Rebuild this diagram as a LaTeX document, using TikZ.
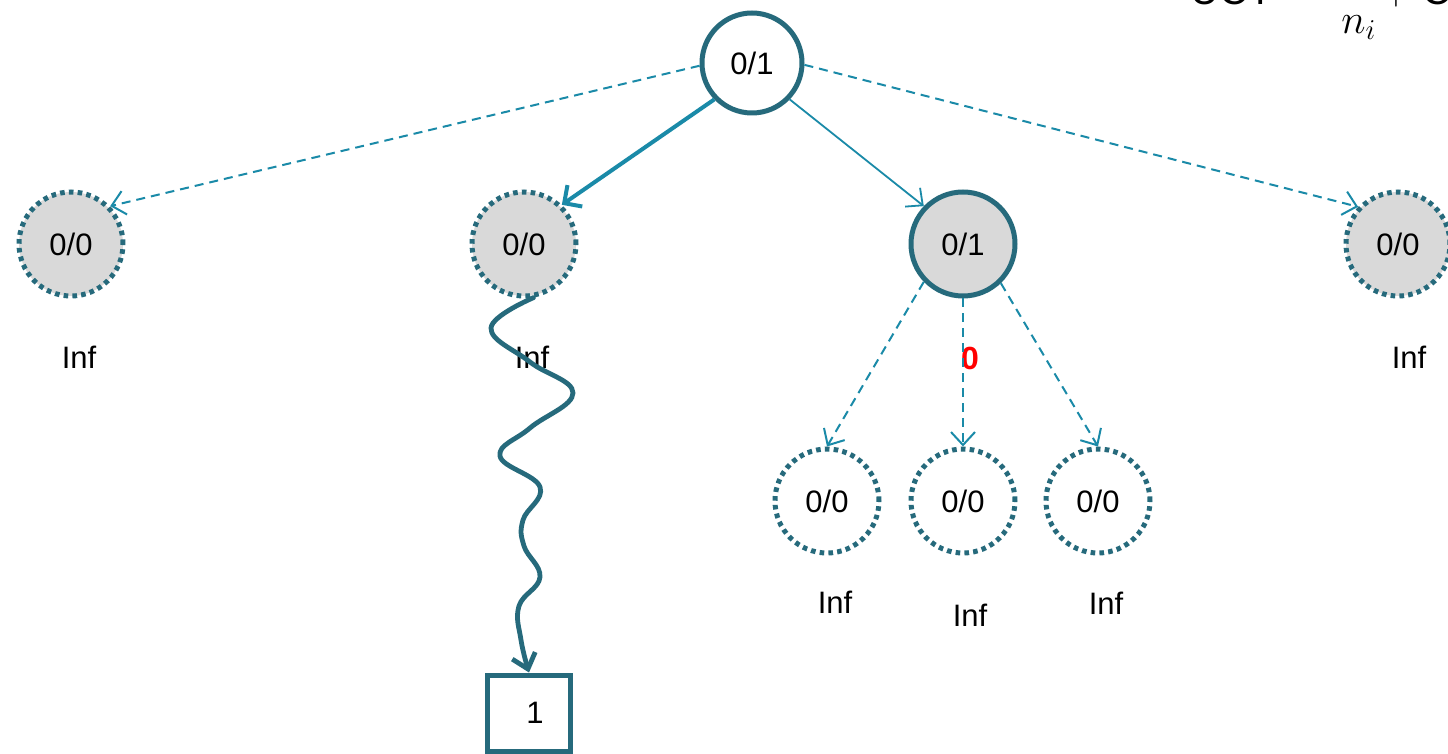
\documentclass[tikz,border=0pt]{standalone}
\usepackage{fontspec}
\setmainfont{Liberation Sans}
\usetikzlibrary{arrows.meta}
\definecolor{ring}{RGB}{38,106,124}
\definecolor{edge}{RGB}{26,138,168}
\definecolor{nodegray}{RGB}{217,217,217}
\begin{document}
\begin{tikzpicture}[x=0.5pt,y=-0.5pt,
  lbl/.style={font=\fontsize{15.5}{18}\selectfont},
  solidnode/.style={circle,draw=ring,line width=2.5pt,minimum size=#1,inner sep=0pt,lbl},
  dotnode/.style={circle,draw=ring,line width=2.5pt,dash pattern=on 2.3pt off 2.1pt,minimum size=52pt,inner sep=0pt,lbl},
  dashedge/.style={draw=edge,line width=1pt,dash pattern=on 4.5pt off 3pt,-{Straight Barb[length=6.5pt,width=12pt,line width=1pt]}},
  thinedge/.style={draw=edge,line width=0.9pt,-{Straight Barb[length=6.5pt,width=12pt,line width=0.9pt]}},
  thickedge/.style={draw=edge,line width=2pt,-{Straight Barb[length=6.5pt,width=13pt,line width=2pt]}},
  snakeedge/.style={draw=ring,line width=2.4pt,line cap=round,-{Straight Barb[length=7pt,width=12pt,line width=2.4pt]}},
  boxnode/.style={rectangle,draw=ring,line width=2.5pt,minimum width=41.5pt,minimum height=38pt,inner sep=0pt,lbl},
  inflbl/.style={lbl}
]
\fill[white] (0,0) rectangle (1448,754);
\useasboundingbox (0,0) rectangle (1448,754);

% formula (mostly cut off by top edge)
\node[anchor=base west,inner sep=0pt,font=\fontsize{20}{24}\selectfont] (formula) at (1190,5)
  {UCT $\displaystyle=\;\frac{w_i}{n_i}+\;$C$\displaystyle\sqrt{\frac{\ln N_i}{n_i}}$};

% nodes
\node[solidnode=50pt,fill=white] (root) at (752,63) {0/1};
\node[dotnode,fill=nodegray] (L1) at (71,244) {0/0};
\node[dotnode,fill=nodegray] (L2) at (524,244) {0/0};
\node[solidnode=52pt,fill=nodegray] (L3) at (963,244) {0/1};
\node[dotnode,fill=nodegray] (L4) at (1398,244) {0/0};
\node[dotnode,fill=white] (C1) at (827,501) {0/0};
\node[dotnode,fill=white] (C2) at (963,501) {0/0};
\node[dotnode,fill=white] (C3) at (1098,501) {0/0};
\node[boxnode,fill=white] (box) at (529,713) {\hspace{6pt}1};

% labels
\node[inflbl] (i1) at (79,357) {Inf};
\node[inflbl] (i2) at (532,357) {Inf};
\node[inflbl] (i4) at (1409,357) {Inf};
\node[inflbl] (i5) at (835,602) {Inf};
\node[inflbl] (i6) at (970,615) {Inf};
\node[inflbl] (i7) at (1106,603) {Inf};
\node[font=\fontsize{16}{18}\selectfont\bfseries,text=red] (zero) at (970,358) {0};

% edges
\draw[dashedge] (root.183) -- (L1.44);
\draw[thickedge] (root.224) -- (L2.46);
\draw[thinedge] (root.316) -- (L3.136);
\draw[dashedge] (root.-2) -- (L4.137);
\draw[dashedge] (L3.224) -- (C1.north);
\draw[dashedge] (L3.south) -- (C2.north);
\draw[dashedge] (L3.314) -- (C3.north);

% wavy rollout
\draw[snakeedge] plot[smooth,tension=0.7] coordinates {(L2.-80) (491,328) (530,362) (573,393) (530,428) (500,456) (540,487) (523,520) (524,546) (540,577) (519,606) (521,640) (box.north)};
\end{tikzpicture}
\end{document}
